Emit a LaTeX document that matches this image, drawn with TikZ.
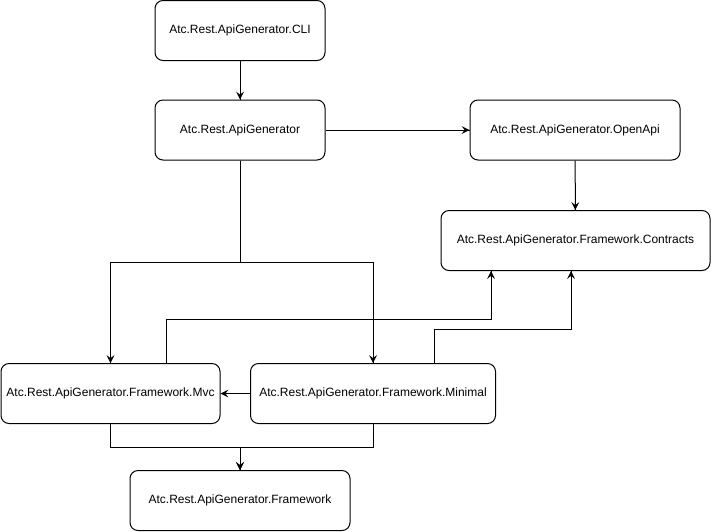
\documentclass[tikz,border=0pt]{standalone}
\usepackage{fontspec}
\setmainfont{Liberation Sans}
\tikzset{->/.style = {decoration={markings, mark=at position 1 with {\arrow[scale=1.7]{stealth}}}, postaction={decorate}}}
\tikzset{pkg/.style = {draw, rounded corners=8pt, line width=1pt, minimum height=60pt, align=center,
                       font=\fontsize{12}{14}\selectfont}}
\usetikzlibrary{calc,
                 decorations.markings}

\begin{document}
\begin{tikzpicture}[x=1pt, y=-1pt, line width=1pt]
\useasboundingbox (0,0) rectangle (711,531);
\node [pkg, minimum width=170pt] (cli) at (240,30.5) {Atc.Rest.ApiGenerator.CLI};
\node [pkg, minimum width=170pt] (gen) at (240,130) {Atc.Rest.ApiGenerator};
\node [pkg, minimum width=210pt] (oapi) at (575,130) {Atc.Rest.ApiGenerator.OpenApi};
\node [pkg, minimum width=269pt] (contracts) at (575.5,240.5) {Atc.Rest.ApiGenerator.Framework.Contracts};
\node [pkg, minimum width=219pt] (mvc) at (110.5,393.5) {Atc.Rest.ApiGenerator.Framework.Mvc};
\node [pkg, minimum width=245pt] (minimal) at (373,393.5) {Atc.Rest.ApiGenerator.Framework.Minimal};
\node [pkg, minimum width=220pt] (fw) at (240,500.5) {Atc.Rest.ApiGenerator.Framework};
\draw [->] (cli) -- (gen);
\draw [->] (gen) -- (oapi);
\draw [->] (oapi) -- (contracts);
\draw [->] (gen.south) -- ++(0,102) -| (mvc.north);
\draw [->] (gen.south) -- ++(0,102) -| (minimal.north);
\draw [->] ([xshift=55.5pt]mvc.north) -- ++(0,-44) -| ([xshift=-84.5pt]contracts.south);
\draw [->] ([xshift=61pt]minimal.north) -- ++(0,-34) -| ([xshift=-4.5pt]contracts.south);
\draw [->] (minimal) -- (mvc);
\draw [->] (mvc.south) -- ++(0,23) -| (fw.north);
\draw [->] (minimal.south) -- ++(0,23) -| (fw.north);
\end{tikzpicture}
\end{document}
